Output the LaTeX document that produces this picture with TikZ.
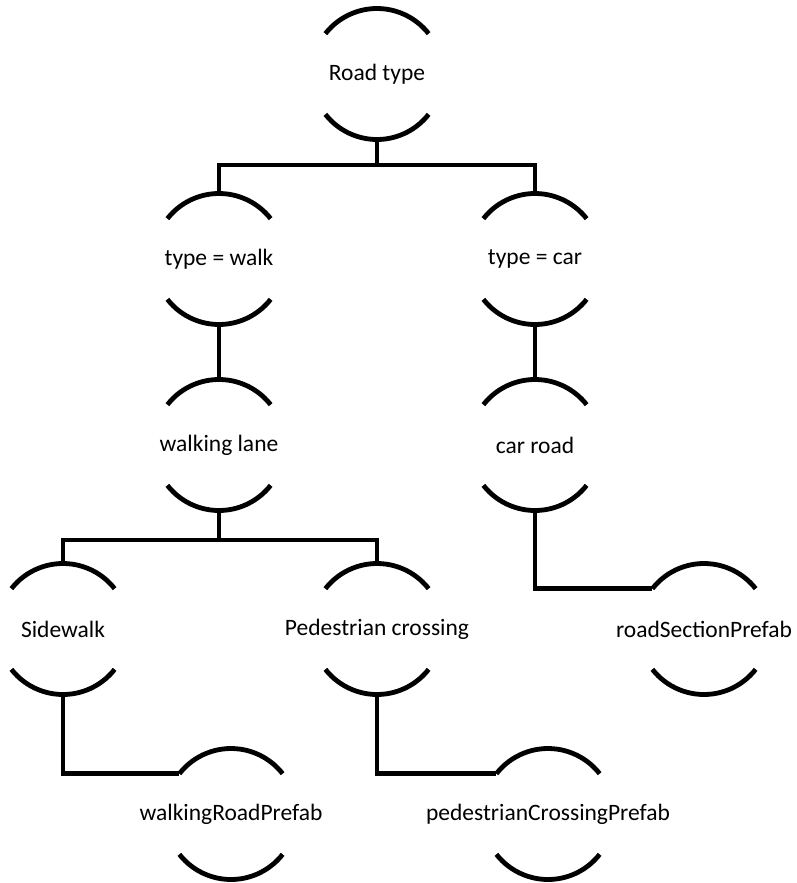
\documentclass[tikz,border=0pt]{standalone}
\usepackage{fontspec}
\setmainfont{Carlito}
\newcommand{\zw}[1]{\makebox[0pt]{#1}}
\begin{document}
\begin{tikzpicture}[x=1pt,y=1pt,
  line width=4.8pt,
  nd/.style={circle,draw=none,minimum size=131pt,inner sep=0pt,outer sep=0pt,
    font=\fontsize{23.5}{28}\selectfont,text=black},
  link/.style={line width=4.8pt,line join=miter}
]
\useasboundingbox (0,0) rectangle (797,-883);
\node[nd] (root) at (377,-74) {\zw{Road type}};
\node[nd] (walk) at (219,-259) {\zw{type = walk}};
\node[nd] (car) at (535,-259) {\zw{type = car}};
\node[nd] (lane) at (219,-445) {\zw{walking lane}};
\node[nd] (croad) at (535,-445) {\zw{car road}};
\node[nd] (side) at (63,-629) {\zw{Sidewalk}};
\node[nd] (ped) at (377,-629) {\zw{Pedestrian crossing}};
\node[nd] (rsp) at (704,-629) {\zw{roadSectionPrefab}};
\node[nd] (wrp) at (231,-814) {\zw{walkingRoadPrefab}};
\node[nd] (pcp) at (548,-814) {\zw{pedestrianCrossingPrefab}};
\foreach \n in {root,walk,car,lane,croad,side,ped,rsp,wrp,pcp}{
  \draw (\n.142) arc[start angle=142,end angle=38,radius=65.5pt];
  \draw (\n.218) arc[start angle=218,end angle=322,radius=65.5pt];
}
\draw[link] (root.south) -- (root.south |- 0,-165);
\draw[link] (walk.north) |- (root.south |- 0,-165) -| (car.north);
\draw[link] (walk.south) -- (lane.north);
\draw[link] (car.south) -- (croad.north);
\draw[link] (lane.south) -- (lane.south |- 0,-540);
\draw[link] (side.north) |- (lane.south |- 0,-540) -| (ped.north);
\draw[link] (croad.south) |- (rsp.142);
\draw[link] (side.south) |- (wrp.142);
\draw[link] (ped.south) |- (pcp.142);
\end{tikzpicture}
\end{document}
